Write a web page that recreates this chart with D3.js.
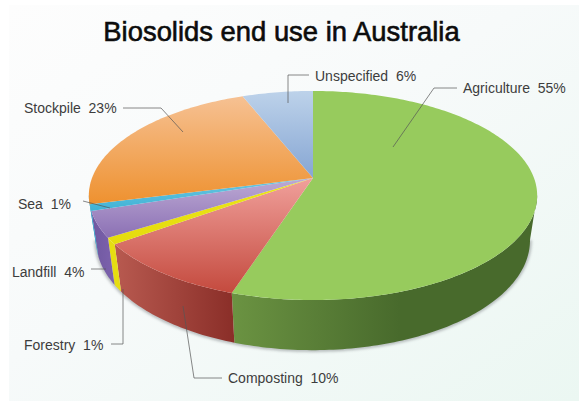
<!DOCTYPE html>
<html>
<head>
<meta charset="utf-8">
<style>
html,body{margin:0;padding:0;background:#fff}
svg{display:block}
text{font-family:"Liberation Sans",Arial,sans-serif}
</style>
<script src="https://cdn.jsdelivr.net/npm/d3@7"></script>
</head>
<body>
<script>
// End-use shares, clockwise from twelve o'clock
const categories = ["Agriculture","Composting","Forestry","Landfill","Sea","Stockpile","Unspecified"];
const shares = [55,10,1,4,1,23,6];
const chartTitle = "Biosolids end use in Australia";

// Top-face gradient stops (upper, lower) and side-wall stops (left, right)
const topColours = [["#97cb5d","#97cb5d"],["#f0a09b","#c44a3e"],["#ebe41a","#e5dc0c"],["#bdaad4","#8b70b4"],["#6cc6e0","#3fb2d6"],["#f6c193","#ee912f"],["#bdd2ea","#86a6d3"]];
const wallColours = [["#6b9342","#486a2c"],["#b85a50","#8a2e28"],["#e6dd12","#e6dd12"],["#6f58a0","#7d62ad"],["#3f9fc8","#3f9fc8"],["#3f9fc8","#3f9fc8"],["#86a6d3","#86a6d3"]];

const W = 579, H = 401;
const svg = d3.select("body").append("svg").attr("width",W).attr("height",H);
const defs = svg.append("defs");

// Page wash
const wash = defs.append("linearGradient").attr("id","wash")
  .attr("x1",0).attr("y1",0).attr("x2",1).attr("y2",1);
wash.append("stop").attr("offset",0).attr("stop-color","#fdfdfd");
wash.append("stop").attr("offset",.45).attr("stop-color","#f7fafa");
wash.append("stop").attr("offset",1).attr("stop-color","#ebf7f2");
svg.append("rect").attr("x",9).attr("y",5).attr("width",W-9).attr("height",H-5).attr("fill","url(#wash)");

defs.append("filter").attr("id","soft").attr("x","-10%").attr("y","-10%").attr("width","120%").attr("height","120%")
  .append("feGaussianBlur").attr("stdDeviation",1.6);

// Perspective disc: the hub sits above the centre of the visible ellipse
const hubX = 313, hubY = 178, halfW = 221, persp = -0.1675, tiltY = 71.8;
function rim(theta){
  const u = Math.sin(theta), v = -Math.cos(theta), d = 1 + persp*v;
  return [hubX + halfW*u/d, (tiltY*v + hubY)/d];
}
const wallShrink = 0.968, wallStretch = 1.05, wallDrop = 44;
function lowerRim(theta){
  const [x,y] = rim(theta);
  return [hubX + (x-hubX)*wallShrink, hubY + (y-hubY)*wallStretch + wallDrop];
}

const arcs = d3.pie().sort(null).value(d=>d)(shares);
const path = d3.line();
const step = Math.PI/180;
const sweep = (a,b) => d3.range(a,b,step).concat([b]);

// Rim angles where the wall becomes visible: the widest points of the ellipse
const wallFrom = 99.4*step, wallTo = 260.6*step;

// Ground shadow under the wall
svg.append("path")
  .attr("d",path(sweep(wallFrom,wallTo).map(lowerRim)))
  .attr("fill","none").attr("stroke","#8a8f92").attr("stroke-width",3)
  .attr("opacity",.7).attr("filter","url(#soft)");

const g = svg.append("g");

// Side wall, each slice clipped to the visible half
arcs.forEach((a,i)=>{
  const s = Math.max(a.startAngle,wallFrom), e = Math.min(a.endAngle,wallTo);
  if(e<=s) return;
  const outer = sweep(s,e);
  const pts = outer.map(rim).concat(outer.slice().reverse().map(lowerRim));
  const xs = pts.map(p=>p[0]);
  const id = "wall"+i;
  const grad = defs.append("linearGradient").attr("id",id).attr("gradientUnits","userSpaceOnUse")
    .attr("x1",d3.min(xs)).attr("x2",i===0?400:d3.max(xs)).attr("y1",0).attr("y2",0);
  grad.append("stop").attr("offset",0).attr("stop-color",wallColours[i][0]);
  grad.append("stop").attr("offset",1).attr("stop-color",wallColours[i][1]);
  g.append("path").attr("d",path(pts)+"Z").attr("fill",`url(#${id})`);
});

// Top faces
arcs.forEach((a,i)=>{
  const pts = [[hubX,hubY]].concat(sweep(a.startAngle,a.endAngle).map(rim));
  const ys = pts.map(p=>p[1]);
  const id = "face"+i;
  const grad = defs.append("linearGradient").attr("id",id).attr("gradientUnits","userSpaceOnUse")
    .attr("x1",0).attr("x2",0).attr("y1",d3.min(ys)).attr("y2",d3.max(ys));
  grad.append("stop").attr("offset",0).attr("stop-color",topColours[i][0]);
  grad.append("stop").attr("offset",1).attr("stop-color",topColours[i][1]);
  g.append("path").attr("d",path(pts)+"Z").attr("fill",`url(#${id})`);
});

// Title
svg.append("text").attr("x",281.5).attr("y",41).attr("text-anchor","middle")
  .attr("font-size",27.4).attr("fill","#0c0c0c").attr("stroke","#0c0c0c").attr("stroke-width",.6)
  .text(chartTitle);

// Callouts: label anchor and elbowed leader for each category
const callouts = [
  {x:463,y:93,line:[[457,88],[434,88],[393,147]]},
  {x:228,y:383,line:[[222,378],[194,378],[183,306]]},
  {x:24,y:350,line:[[111,344],[123,344],[123,289]]},
  {x:12,y:277,line:[[91,269],[106,269]]},
  {x:18,y:209,line:[[83,201],[110,208]]},
  {x:24,y:113,line:[[123,108],[161,108],[183,132]]},
  {x:315,y:81,line:[[309,75],[288,75],[288,103]]}
];
callouts.forEach((c,i)=>{
  svg.append("path").attr("d",path(c.line)).attr("fill","none")
    .attr("stroke","#555").attr("stroke-opacity",.7).attr("stroke-width",1);
  svg.append("text").attr("x",c.x).attr("y",c.y)
    .attr("font-size",14).attr("fill","#3d3d3d")
    .style("white-space","pre")
    .text(`${categories[i]}  ${shares[i]}%`);
});
</script>
</body>
</html>
